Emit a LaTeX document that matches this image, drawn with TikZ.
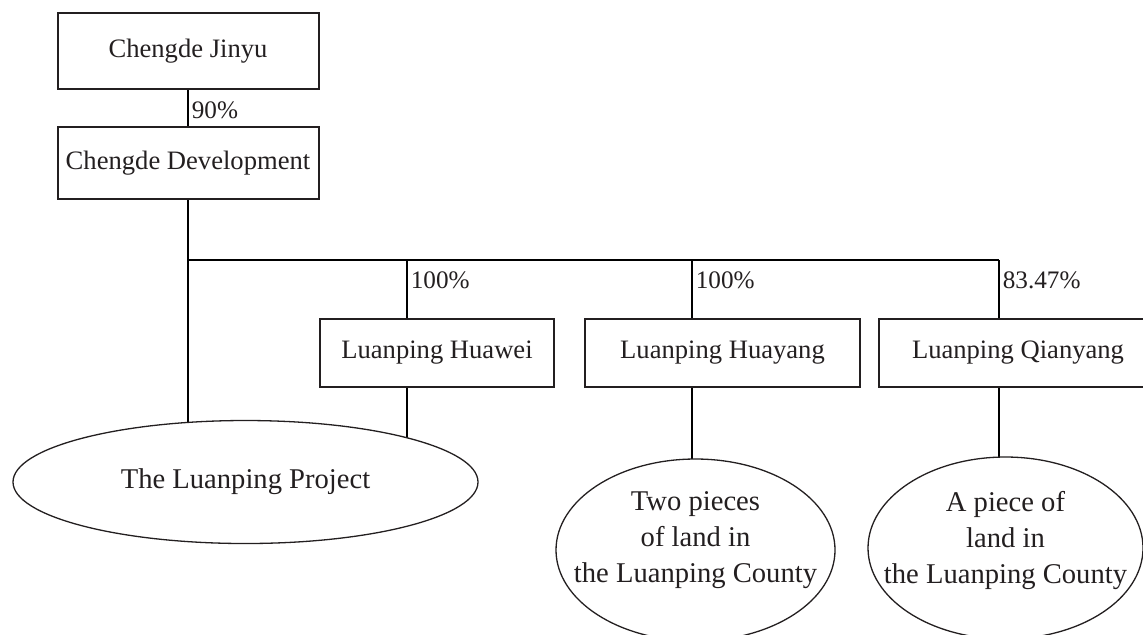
\documentclass[tikz,border=0pt]{standalone}
\usepackage{fontspec}
\setmainfont{Liberation Serif}
\usetikzlibrary{shapes.geometric,backgrounds}
\definecolor{ink}{RGB}{35,31,32}

\begin{document}
\begin{tikzpicture}[x=0.5pt,y=-0.5pt,color=ink,
  firm/.style={draw,line width=1pt,inner sep=0pt,font=\fontsize{13.3}{16}\selectfont},
  asset/.style={draw,ellipse,line width=0.65pt,fill=white,inner sep=0pt,font=\fontsize{14.3}{18}\selectfont},
  landtext/.style={align=center,inner sep=0pt,font=\fontsize{14.3}{18}\selectfont},
  share/.style={anchor=west,inner sep=1.5pt,font=\fontsize{12.6}{15}\selectfont},
  link/.style={line width=0.85pt}]
\useasboundingbox (0,0) rectangle (1143,634);
% companies
\node[firm,minimum width=130.5pt,minimum height=38pt] (jinyu) at (188,51) {Chengde Jinyu};
\node[firm,minimum width=130.5pt,minimum height=36pt] (dev) at (188,163) {Chengde Development};
\node[firm,minimum width=117pt,minimum height=34pt] (huawei) at (437,353) {Luanping Huawei};
\node[firm,minimum width=137.5pt,minimum height=34pt] (huayang) at (722.5,353) {Luanping Huayang};
\node[firm,minimum width=139pt,minimum height=34pt] (qianyang) at (1018,353) {Luanping Qianyang};
% projects and land
\node[asset,minimum width=232.5pt,minimum height=61.5pt] (proj) at (245.5,482) {The Luanping Project};
\node[asset,minimum width=139.5pt,minimum height=91pt,
  label={[landtext,yshift=5pt]center:Two pieces\\of land in\\the Luanping County}] (twoplots) at (695.5,550) {};
\node[asset,minimum width=137.5pt,minimum height=91pt,
  label={[landtext,yshift=4pt]center:A piece of\\land in\\the Luanping County}] (oneplot) at (1005.5,548) {};
% holding lines
\coordinate (bus) at (188,260);
\coordinate (t1) at (407,260);
\coordinate (t2) at (692,260);
\coordinate (t3) at (999,260);
\begin{pgfonlayer}{background}
\draw[link] (jinyu) -- node[share,pos=.57]{90\%} (dev);
\draw[link] (dev) -- (bus) -- (bus |- proj.center);
\draw[link] (bus) -- (t3);
\draw[link] (t1) -- node[share,pos=.35]{100\%} (t1 |- huawei.north);
\draw[link] (t2) -- node[share,pos=.35]{100\%} (t2 |- huayang.north);
\draw[link] (t3) -- node[share,pos=.35]{83.47\%} (t3 |- qianyang.north);
\draw[link] (t1 |- huawei.south) -- (t1 |- proj.center);
\draw[link] (t2 |- huayang.south) -- (t2 |- twoplots.center);
\draw[link] (t3 |- qianyang.south) -- (t3 |- oneplot.center);
\end{pgfonlayer}
\end{tikzpicture}
\end{document}
